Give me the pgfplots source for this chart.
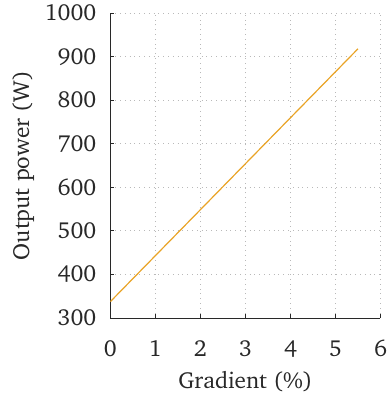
\documentclass[border={3pt 1pt 1pt 0pt}]{standalone}
\usepackage[T1]{fontenc}
\usepackage{charter}
\usepackage{pgfplots}
\pgfplotsset{compat=1.18}
\definecolor{lineorange}{RGB}{233,163,38}
\definecolor{textgray}{RGB}{40,40,40}
\begin{document}
\begin{tikzpicture}
\begin{axis}[
  scale only axis,
  width=135pt, height=152.5pt,
  xmin=0, xmax=6, ymin=300, ymax=1000,
  xtick={0,1,...,6}, ytick={300,400,...,1000},
  axis lines=left,
  axis line style={-, textgray, line width=0.6pt},
  tick style={textgray, line width=0.5pt},
  major tick length=2pt,
  tick align=inside,
  grid=major,
  grid style={dotted, gray!55, line width=0.5pt},
  font=\fontsize{11.6}{13}\selectfont,
  every tick label/.append style={textgray},
  xticklabel style={yshift=-7.5pt, inner xsep=1pt},
  yticklabel style={xshift=-3.5pt, inner ysep=2.5pt},
  /pgf/number format/assume math mode=true,
  /pgf/number format/1000 sep={},
  xlabel={Gradient (\%)},
  ylabel={Output power (W)},
  label style={textgray},
  xlabel style={yshift=0pt},
  ylabel style={yshift=-1.5pt},
  clip=false,
]
\addplot[lineorange, line width=0.6pt] coordinates {(0,338) (5.5,918)};
\end{axis}
\end{tikzpicture}
\end{document}
